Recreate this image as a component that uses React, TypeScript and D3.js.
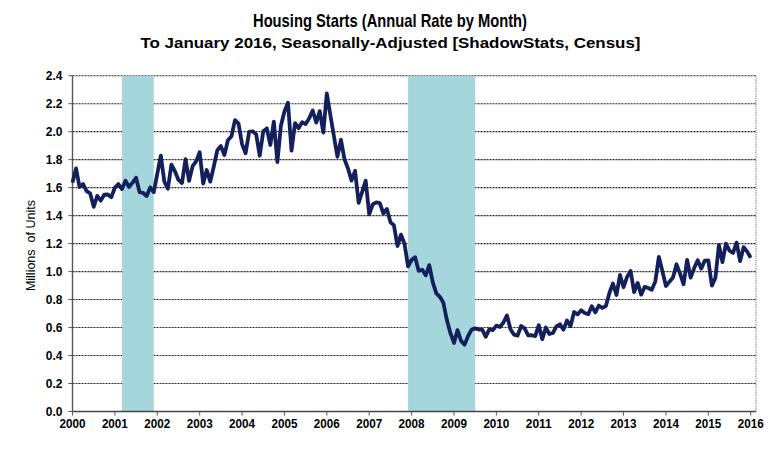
import * as d3 from "d3";

// monthly housing starts, millions of units (SAAR), Jan 2000 .. Jan 2016
const startYear = 2000;
const starts = [
	// 2000
	1.636, 1.737, 1.604, 1.626, 1.575, 1.559, 1.463, 1.541, 1.507, 1.549, 1.551, 1.532,
	// 2001
	1.6, 1.625, 1.59, 1.649, 1.605, 1.636, 1.67, 1.567, 1.562, 1.54, 1.602, 1.568,
	// 2002
	1.698, 1.829, 1.642, 1.592, 1.764, 1.717, 1.655, 1.633, 1.804, 1.648, 1.753, 1.788,
	// 2003
	1.853, 1.629, 1.726, 1.643, 1.751, 1.867, 1.897, 1.833, 1.939, 1.967, 2.083, 2.057,
	// 2004
	1.911, 1.846, 1.998, 2.003, 1.981, 1.828, 2.002, 2.024, 1.905, 2.072, 1.782, 2.042,
	// 2005
	2.144, 2.207, 1.864, 2.061, 2.025, 2.068, 2.054, 2.095, 2.151, 2.065, 2.147, 1.994,
	// 2006
	2.273, 2.119, 1.969, 1.821, 1.942, 1.802, 1.737, 1.65, 1.72, 1.491, 1.57, 1.649,
	// 2007
	1.409, 1.48, 1.495, 1.49, 1.415, 1.448, 1.354, 1.33, 1.183, 1.264, 1.197, 1.037,
	// 2008
	1.084, 1.103, 1.005, 1.013, 0.973, 1.046, 0.923, 0.844, 0.82, 0.777, 0.652, 0.56,
	// 2009
	0.49, 0.582, 0.505, 0.478, 0.54, 0.585, 0.594, 0.586, 0.585, 0.534, 0.588, 0.581,
	// 2010
	0.614, 0.604, 0.636, 0.687, 0.588, 0.549, 0.542, 0.611, 0.594, 0.544, 0.545, 0.539,
	// 2011
	0.617, 0.517, 0.6, 0.554, 0.561, 0.608, 0.623, 0.585, 0.65, 0.61, 0.711, 0.694,
	// 2012
	0.723, 0.704, 0.695, 0.753, 0.708, 0.757, 0.74, 0.754, 0.847, 0.915, 0.833, 0.976,
	// 2013
	0.888, 0.962, 1.005, 0.853, 0.919, 0.835, 0.891, 0.883, 0.87, 0.93, 1.105, 1.003,
	// 2014
	0.897, 0.928, 0.957, 1.052, 0.985, 0.909, 1.084, 0.957, 1.025, 1.081, 1.021, 1.079,
	// 2015
	1.08, 0.9, 0.954, 1.19, 1.068, 1.2, 1.149, 1.133, 1.207, 1.075, 1.175, 1.143,
	// 2016
	1.099,
];

// recessions as [start, end] in fractional years
const recessions = [
	[2001 + 2 / 12, 2001 + 11 / 12],
	[2007 + 11 / 12, 2009.5],
];

const yearTicks = d3.range(2000, 2017);
const valueTicks = d3.range(0, 2.41, 0.2);

const WIDTH = 781;
const HEIGHT = 459;
const LEFT = 72.5;
const RIGHT = 756;
const TOP = 75.7;
const BOTTOM = 411.5;
const FONT = "Arial, 'Liberation Sans', sans-serif";

export default function App() {
	const x = d3.scaleLinear().domain([2000, 2016.125]).range([LEFT, RIGHT]);
	const y = d3.scaleLinear().domain([0, 2.4]).range([BOTTOM, TOP]);

	const line = d3
		.line<number>()
		.x((_, i) => x(startYear + i / 12))
		.y((d) => y(d));

	return (
		<svg
			width={WIDTH}
			height={HEIGHT}
			style={{ position: "absolute", left: 0, top: 0, background: "#fff" }}
			fontFamily={FONT}
		>
			<text x={390} y={27} textAnchor="middle" fontSize={18.5} fontWeight="bold" textLength={274} lengthAdjust="spacingAndGlyphs">
				Housing Starts (Annual Rate by Month)
			</text>
			<text x={390.5} y={47.5} textAnchor="middle" fontSize={15} fontWeight="bold" textLength={500} lengthAdjust="spacingAndGlyphs">
				To January 2016, Seasonally-Adjusted [ShadowStats, Census]
			</text>

			{/* gridlines */}
			{valueTicks.slice(1).map((v) => (
				<line key={v} x1={LEFT} x2={RIGHT} y1={y(v)} y2={y(v)} stroke="#222" strokeWidth={1.1} strokeDasharray="2,1" />
			))}
			<line x1={RIGHT} x2={RIGHT} y1={TOP} y2={BOTTOM} stroke="#777" strokeWidth={1.2} strokeDasharray="1,1" />

			{/* recession shading */}
			{recessions.map(([a, b], i) => (
				<rect key={i} x={x(a)} y={TOP} width={x(b) - x(a)} height={BOTTOM - TOP} fill="#a4d6db" />
			))}

			{/* axes */}
			<line x1={LEFT} x2={LEFT} y1={TOP} y2={BOTTOM} stroke="#555" strokeWidth={1.4} />
			<line x1={LEFT} x2={RIGHT} y1={BOTTOM} y2={BOTTOM} stroke="#444" strokeWidth={1.4} />
			{valueTicks.map((v) => (
				<g key={v}>
					<line x1={LEFT - 4} x2={LEFT} y1={y(v)} y2={y(v)} stroke="#555" />
					<text x={LEFT - 10} y={y(v)} dy="0.36em" textAnchor="end" fontSize={12} fontWeight="bold">
						{v.toFixed(1)}
					</text>
				</g>
			))}
			{yearTicks.map((yr) => (
				<g key={yr}>
					<line x1={x(yr)} x2={x(yr)} y1={BOTTOM} y2={BOTTOM + 4} stroke="#555" />
					<text x={x(yr)} y={BOTTOM + 16.5} textAnchor="middle" fontSize={12} fontWeight="bold" textLength={26} lengthAdjust="spacingAndGlyphs">
						{yr}
					</text>
				</g>
			))}
			<text
				transform={`translate(35, ${(TOP + BOTTOM) / 2 + 2}) rotate(-90)`}
				textAnchor="middle"
				fontSize={12.5}
				style={{ whiteSpace: "pre" }}
			>
				Millions  of Units
			</text>

			{/* series */}
			<path d={line(starts) ?? ""} fill="none" stroke="#13205c" strokeWidth={3.8} strokeLinejoin="round" />
		</svg>
	);
}
